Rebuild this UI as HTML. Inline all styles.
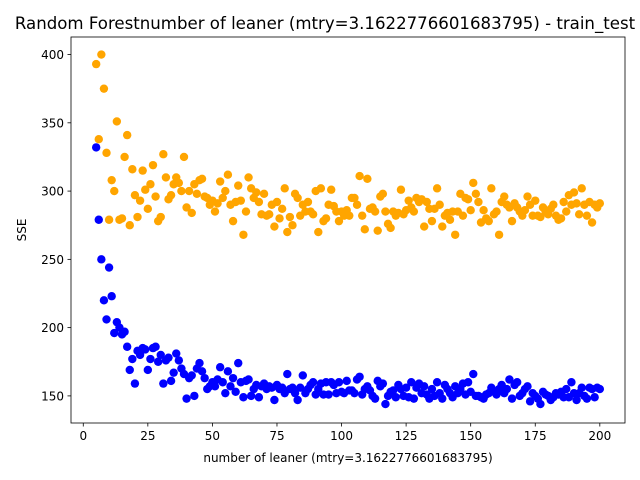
<!DOCTYPE html>
<html><head><meta charset="utf-8"><style>
body{margin:0;background:#fff;}
svg{display:block;font-family:"DejaVu Sans","Liberation Sans",sans-serif;}
</style></head><body>
<svg id="chart" width="640" height="480"></svg>
<script>
const xStart = 5;
const orangeVals = [393,338,400,375,328,279,308,300,351,279,280,325,341,275,316,297,281,293,315,301,287,305,319,296,278,281,327,310,294,297,305,310,306,300,325,288,300,284,305,298,308,309,296,295,290,293,285,291,307,295,300,312,290,278,292,304,293,268,285,310,302,295,299,292,283,298,282,283,290,274,292,280,287,302,270,281,275,298,295,282,290,285,292,285,283,300,270,302,278,280,290,301,289,285,278,285,282,286,282,295,295,290,311,282,272,309,287,288,285,271,296,298,285,276,273,285,282,284,301,283,286,293,288,285,295,292,294,274,292,287,278,287,302,290,274,282,284,279,285,268,285,298,282,295,294,286,306,298,292,277,286,280,278,302,283,285,268,292,296,290,288,278,291,288,285,282,286,296,290,282,293,282,281,288,285,283,287,290,282,279,280,292,285,297,290,299,291,283,302,290,282,292,277,290,288,291];
const blueVals = [332,279,250,220,206,244,223,196,204,200,195,197,186,169,177,159,183,180,185,184,169,177,185,186,175,180,159,176,178,161,167,181,176,170,166,148,163,165,150,170,174,168,163,155,157,160,157,162,171,160,152,168,157,163,153,174,160,149,161,162,150,155,158,149,157,159,155,157,156,147,158,155,156,152,166,155,156,152,147,156,165,152,155,158,160,151,155,159,151,160,151,160,158,152,160,153,152,161,154,154,152,162,164,151,155,157,154,150,148,161,157,159,144,150,153,154,149,158,155,150,156,149,160,148,156,159,152,157,151,148,155,150,160,152,148,158,155,152,149,157,152,155,159,151,160,153,166,150,150,149,148,151,152,156,153,151,155,158,152,155,162,148,158,160,150,152,155,157,146,152,150,148,144,153,151,150,147,149,152,151,153,149,155,149,160,152,147,152,156,150,148,156,155,149,156,155];
const xTicks = [0,25,50,75,100,125,150,175,200];
const yTicks = [150,200,250,300,350,400];
const titleText = "Random Forestnumber of leaner (mtry=3.1622776601683795) - train_test";
const xLabelText = "number of leaner (mtry=3.1622776601683795)";
const yLabelText = "SSE";

const L=71,R=625,T=37,B=423;
const xMin=-4.75,xMax=209.75,yMin=130.15,yMax=412.85;
const sx=v=>L+(v-xMin)/(xMax-xMin)*(R-L);
const sy=v=>B-(v-yMin)/(yMax-yMin)*(B-T);
const NS="http://www.w3.org/2000/svg";
const svg=document.getElementById('chart');
function mk(tag,attrs,parent){const e=document.createElementNS(NS,tag);for(const k in attrs)e.setAttribute(k,attrs[k]);(parent||svg).appendChild(e);return e;}

const title=mk('text',{x:325,y:29,'text-anchor':'middle','font-size':'16.6'});


title.textContent=titleText;

const pts=mk('g',{});


orangeVals.forEach((v,i)=>{
  const c=mk('circle',{cx:sx(xStart+i),cy:sy(v),r:4.2,fill:'#ffa500'},pts);
  
  
});
blueVals.forEach((v,i)=>{
  const c=mk('circle',{cx:sx(xStart+i),cy:sy(v),r:4.2,fill:'#0000ff'},pts);
  
  
});

const frame=mk('rect',{x:L,y:T,width:R-L,height:B-T,fill:'none',stroke:'#000','stroke-width':0.8});



xTicks.forEach(t=>{
  const x=sx(t);
  const ln=mk('line',{x1:x,x2:x,y1:B,y2:B+3.5,stroke:'#000','stroke-width':0.8});
  
  
  const tx=mk('text',{x:x,y:B+17,'text-anchor':'middle','font-size':'12'});
  
  
  tx.textContent=t;
});
yTicks.forEach(t=>{
  const y=sy(t);
  const ln=mk('line',{x1:L-3.5,x2:L,y1:y,y2:y,stroke:'#000','stroke-width':0.8});
  
  
  const tx=mk('text',{x:L-7,y:y+4.5,'text-anchor':'end','font-size':'12'});
  
  
  tx.textContent=t;
});
const xl=mk('text',{x:(L+R)/2,y:462,'text-anchor':'middle','font-size':'12'});


xl.textContent=xLabelText;
const yl=mk('text',{x:0,y:0,'text-anchor':'middle','font-size':'12',transform:`translate(26,${(T+B)/2}) rotate(-90)`});


yl.textContent=yLabelText;
</script>
</body></html>
